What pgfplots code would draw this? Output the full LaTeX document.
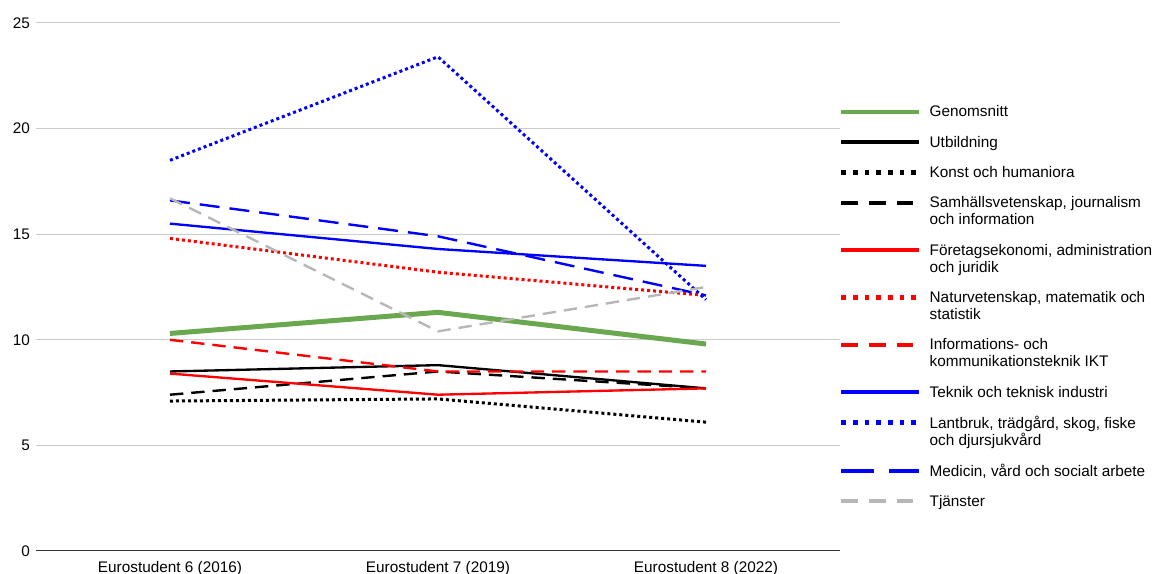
\documentclass[border=0pt]{standalone}
\usepackage{pgfplots}
\pgfplotsset{compat=1.18}
\usepackage{fontspec}
\setmainfont{Liberation Sans}
\definecolor{sgreen}{HTML}{6AA84F}
\definecolor{sgray}{HTML}{B7B7B7}
\definecolor{sgrid}{HTML}{CCCCCC}
\newcommand{\leg}[1]{\begin{tabular}[t]{@{}l@{}}#1\end{tabular}}
% legend samples
\pgfplotsset{
    legsolid/.style={legend image code/.code={\draw[##1, line width=3pt, solid, yshift=4pt] (0pt,0pt) -- (58.5pt,0pt);}},
    legdot/.style={legend image code/.code={\draw[##1, line width=3.5pt, dash pattern=on 3.5pt off 5.25pt, yshift=4pt] (0pt,0pt) -- (58.5pt,0pt);}},
    legdash/.style={legend image code/.code={\draw[##1, line width=3pt, dash pattern=on 12.5pt off 8.25pt, yshift=4pt] (0pt,0pt) -- (58.5pt,0pt);}},
    leglong/.style={legend image code/.code={\draw[##1, line width=3pt, dash pattern=on 24.5pt off 11.25pt, yshift=4pt] (0pt,0pt) -- (58.5pt,0pt);}},
}
\begin{document}
\begin{tikzpicture}[font=\fontsize{11.5}{12.75}\selectfont]
\begin{axis}[
    scale only axis,
    width=603pt, height=396pt,
    xmin=-0.5, xmax=2.5,
    ymin=0, ymax=25,
    xtick={0,1,2},
    xticklabels={Eurostudent 6 (2016), Eurostudent 7 (2019), Eurostudent 8 (2022)},
    ytick={0,5,10,15,20,25},
    /pgf/number format/assume math mode=true,
    separate axis lines,
    axis x line*=bottom,
    axis y line*=left,
    y axis line style={draw=none},
    x axis line style={draw=black!80, line width=0.75pt},
    major tick length=0pt,
    tick style={draw=none},
    ymajorgrids,
    grid style={sgrid, line width=0.75pt},
    yticklabel style={xshift=-1pt},
    xticklabel style={yshift=-4.5pt},
    legsolid,
    legend style={at={(rel axis cs:1,0.8447)}, anchor=north west, xshift=-0.75pt,
        draw=none, fill=none, inner sep=0pt, outer sep=0pt,
        cells={anchor=base west}, nodes={inner sep=0pt, text depth=},
        row sep=10pt, column sep=6pt},
]
\addplot[sgreen, line width=3.75pt] coordinates {(0,10.3) (1,11.3) (2,9.8)};
\addlegendentry{\leg{Genomsnitt}}
\addplot[black, line width=1.75pt] coordinates {(0,8.5) (1,8.8) (2,7.7)};
\addlegendentry{\leg{Utbildning}}
\addplot[black, line width=2.25pt, dash pattern=on 2.25pt off 2.25pt, legdot] coordinates {(0,7.1) (1,7.2) (2,6.1)};
\addlegendentry{\leg{Konst och humaniora}}
\addplot[black, line width=1.8pt, dash pattern=on 10pt off 6pt, legdash] coordinates {(0,7.4) (1,8.5) (2,7.7)};
\addlegendentry{\leg{Samhällsvetenskap, journalism\\och information}}
\addplot[red, line width=1.75pt] coordinates {(0,8.4) (1,7.4) (2,7.7)};
\addlegendentry{\leg{Företagsekonomi, administration\\och juridik}}
\addplot[red, line width=2.25pt, dash pattern=on 2.25pt off 2.25pt, legdot] coordinates {(0,14.8) (1,13.2) (2,12.1)};
\addlegendentry{\leg{Naturvetenskap, matematik och\\statistik}}
\addplot[red, line width=1.8pt, dash pattern=on 10pt off 6pt, legdash] coordinates {(0,10.0) (1,8.5) (2,8.5)};
\addlegendentry{\leg{Informations- och\\kommunikationsteknik IKT}}
\addplot[blue, line width=1.75pt] coordinates {(0,15.5) (1,14.3) (2,13.5)};
\addlegendentry{\leg{Teknik och teknisk industri}}
\addplot[blue, line width=2.25pt, dash pattern=on 2.25pt off 2.25pt, legdot] coordinates {(0,18.5) (1,23.4) (2,11.9)};
\addlegendentry{\leg{Lantbruk, trädgård, skog, fiske\\och djursjukvård}}
\addplot[blue, line width=1.8pt, dash pattern=on 15pt off 7.5pt, leglong] coordinates {(0,16.6) (1,14.9) (2,12.1)};
\addlegendentry{\leg{Medicin, vård och socialt arbete}}
\addplot[sgray, line width=1.8pt, dash pattern=on 10pt off 6pt, legdash] coordinates {(0,16.7) (1,10.4) (2,12.5)};
\addlegendentry{\leg{Tjänster}}
\end{axis}
\pgfresetboundingbox
\path (-27pt,-17.25pt) rectangle (840.75pt,413.25pt);
\end{tikzpicture}
\end{document}
